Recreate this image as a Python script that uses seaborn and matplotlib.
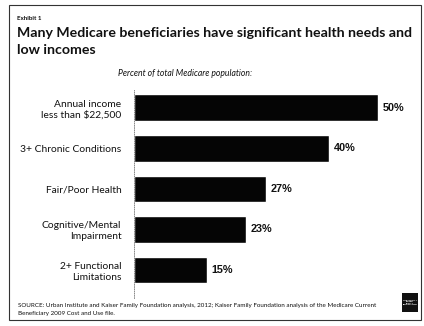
import matplotlib
matplotlib.use("Agg")
import matplotlib.pyplot as plt
import seaborn as sns
import pandas as pd
from matplotlib.patches import Rectangle

categories = [
    "Annual income\nless than $22,500",
    "3+ Chronic Conditions",
    "Fair/Poor Health",
    "Cognitive/Mental\nImpairment",
    "2+ Functional\nLimitations",
]
values = [50, 40, 27, 23, 15]
value_labels = ["50%", "40%", "27%", "23%", "15%"]

df = pd.DataFrame({"category": categories, "pct": values})

sns.set_theme(style="white")
plt.rcParams["font.family"] = ["Lato", "DejaVu Sans"]

W, H = 424, 326
fig = plt.figure(figsize=(W / 100, H / 100), dpi=100)
fig.patch.set_facecolor("white")

def px(x0, y0, x1, y1):
    return [x0 / W, 1 - y1 / H, (x1 - x0) / W, (y1 - y0) / H]

ax = fig.add_axes(px(134, 90, 420, 298))
sns.barplot(data=df, y="category", x="pct", orient="h", color="#050505",
            width=0.66, saturation=1, ax=ax)
ax.set_xlim(0, 286 / 4.88)
ax.set_ylim(4.69, -0.44)
ax.set_xlabel("")
ax.set_ylabel("")
ax.set_xticks([])
ax.tick_params(axis="y", length=0, pad=9, labelsize=7.4, labelcolor="#111111")
for lab in ax.get_yticklabels():
    lab.set_horizontalalignment("right")
    lab.set_multialignment("right")
    lab.set_linespacing(1.25)
for s in ["top", "right", "bottom"]:
    ax.spines[s].set_visible(False)
ax.spines["left"].set_color("#777777")
ax.spines["left"].set_linewidth(0.6)
ax.spines["left"].set_linestyle(":")

for i, (v, t) in enumerate(zip(values, value_labels)):
    ax.text(v + 0.9, i, t, va="center", ha="left", fontsize=7.8,
            family=["Liberation Sans", "DejaVu Sans"], fontweight="bold",
            color="#111111")

# Frame around the exhibit
fig.add_artist(Rectangle((9 / W, 1 - 320 / H), (421 - 9) / W, (320 - 5) / H,
                         transform=fig.transFigure, fill=False,
                         edgecolor="#333333", linewidth=0.8))

fig.text(17 / W, 1 - 19 / H, "Exhibit 1", fontsize=4.5, fontweight="bold",
         va="center", ha="left", color="#111111")
fig.text(17 / W, 1 - 33 / H,
         "Many Medicare beneficiaries have significant health needs and",
         fontsize=10.2, fontweight="bold", va="center", ha="left",
         color="#111111")
fig.text(17 / W, 1 - 50.5 / H, "low incomes",
         fontsize=10.2, fontweight="bold", va="center", ha="left",
         color="#111111")
fig.text(185 / W, 1 - 73 / H, "Percent of total Medicare population:",
         fontsize=6.2, style="italic", va="center", ha="center",
         color="#111111")

fig.text(18 / W, 1 - 306 / H,
         "SOURCE: Urban Institute and Kaiser Family Foundation analysis, 2012; "
         "Kaiser Family Foundation analysis of the Medicare Current",
         fontsize=4.5, va="center", ha="left", color="#111111")
fig.text(18 / W, 1 - 313.5 / H,
         "Beneficiary 2009 Cost and Use file.",
         fontsize=4.5, va="center", ha="left", color="#111111")

# Foundation logo block
fig.add_artist(Rectangle((402 / W, 1 - 312 / H), 16 / W, 19 / H,
                         transform=fig.transFigure, facecolor="#111111",
                         edgecolor="none"))
fig.text(410 / W, 1 - 302.5 / H, "THE HENRY J.\nKAISER\nFAMILY\nFOUNDATION",
         fontsize=1.6, color="white", ha="center", va="center",
         fontweight="bold", linespacing=1.1)

fig.savefig("out.png", dpi=100, facecolor="white")
